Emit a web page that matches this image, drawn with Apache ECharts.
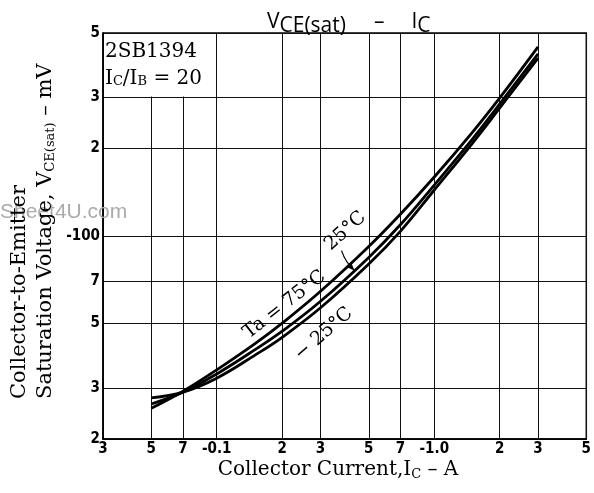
<!DOCTYPE html>
<html>
<head>
<meta charset="utf-8">
<script src="https://cdn.jsdelivr.net/npm/echarts@6/dist/echarts.min.js"></script>
<style>
  html, body { margin: 0; padding: 0; background: #fff; }
  #chart { width: 594px; height: 493px; }
</style>
</head>
<body>
<div id="chart"></div>
<script>
// tick positions and their printed labels (PNP device, so negative signs)
const xTicks = [0.03, 0.05, 0.07, 0.1, 0.2, 0.3, 0.5, 0.7, 1, 2, 3, 5]
const xTickLabels = ['3', '5', '7', '-0.1', '2', '3', '5', '7', '-1.0', '2', '3', '5']
const yTicks = [20, 30, 50, 70, 100, 200, 300, 500]
const yTickLabels = ['2', '3', '5', '7', '-100', '2', '3', '5']

// collector current, A
const current = [0.05, 0.07, 0.1, 0.15, 0.2, 0.3, 0.5, 0.7, 1, 1.5, 2, 3]
// VCE(sat), mV
const vce75 = [25.5, 29.2, 34.6, 42.6, 50.1, 64.5, 92, 119, 159.6, 228, 299, 448]
const vce25 = [26.4, 29.0, 33.5, 40.6, 47.0, 59.6, 84.4, 109.5, 149.8, 216, 285, 424]
const vceM25 = [27.7, 29.0, 32.4, 38.9, 44.8, 56.6, 80.1, 104, 144, 209, 276, 410]

const serif = "'DejaVu Serif', 'Liberation Serif', serif"
const sans = "'Open Sans', 'Noto Sans', sans-serif"
const tickFont = "'DejaVu Sans Condensed', 'Liberation Sans', sans-serif"

const pickLabel = (ticks, labels, v) => {
  for (let i = 0; i < ticks.length; i++) {
    if (Math.abs(Math.log10(v) - Math.log10(ticks[i])) < 1e-6) return labels[i]
  }
  return ''
}

const chart = echarts.init(document.getElementById('chart'))

const curve = (name, vals) => ({
  name,
  type: 'line',
  data: current.map((x, i) => [x, vals[i]]),
  smooth: 0.4,
  symbol: 'none',
  lineStyle: { color: '#000', width: 2.8 },
  z: 5
})

const option = {
  animation: false,
  backgroundColor: '#fff',
  title: {
    text: '{v|V}{s|CE(sat)}{d|–}{v|I}{s|C}',
    left: 262,
    top: 5,
    textStyle: {
      rich: {
        v: { fontFamily: sans, fontSize: 21, fontWeight: 'normal', color: '#000', lineHeight: 24 },
        s: { fontFamily: sans, fontSize: 21, fontWeight: 'normal', color: '#000', lineHeight: 24, padding: [9, 0, 0, 0] },
        d: { fontFamily: sans, fontSize: 21, fontWeight: 'normal', color: '#000', lineHeight: 24, padding: [0, 27, 0, 28] }
      }
    }
  },
  grid: {
    left: 103,
    right: 7,
    top: 33,
    bottom: 54,
    show: true,
    borderColor: '#000',
    borderWidth: 1.5
  },
  xAxis: {
    type: 'log',
    min: 0.03,
    max: 5,
    axisLine: { show: true, lineStyle: { color: '#000', width: 1.5 } },
    axisTick: { show: false, customValues: xTicks },
    splitLine: { show: true, lineStyle: { color: '#111', width: 1 } },
    axisLabel: {
      customValues: xTicks,
      color: '#000',
      fontFamily: tickFont,
      fontWeight: 'bold',
      fontSize: 15,
      margin: 3,
      formatter: v => pickLabel(xTicks, xTickLabels, v)
    }
  },
  yAxis: {
    type: 'log',
    min: 20,
    max: 500,
    axisLine: { show: true, lineStyle: { color: '#000', width: 1.5 } },
    axisTick: { show: false, customValues: yTicks },
    splitLine: { show: true, lineStyle: { color: '#111', width: 1 } },
    axisLabel: {
      customValues: yTicks,
      color: '#000',
      fontFamily: tickFont,
      fontWeight: 'bold',
      fontSize: 15,
      margin: 3,
      formatter: v => pickLabel(yTicks, yTickLabels, v)
    }
  },
  series: [
    curve('Ta=75°C', vce75),
    curve('25°C', vce25),
    curve('-25°C', vceM25)
  ]
}

chart.setOption(option)

// annotations anchored in data space
const px = p => chart.convertToPixel({ gridIndex: 0 }, p)
const boxA = px([0.03, 500])
const boxB = px([0.1, 300])
const t75 = px([0.205, 58])
const t25 = px([0.39, 104])
const tm25 = px([0.31, 46])
const arrowTo = px([0.43, 76])
const deg = Math.PI / 180

chart.setOption({
  graphic: [
    {
      type: 'rect',
      shape: { x: boxA[0] + 1, y: boxA[1] + 1, width: boxB[0] - boxA[0] - 2, height: boxB[1] - boxA[1] - 2 },
      style: { fill: '#fff' },
      z: 10
    },
    {
      type: 'text',
      x: boxA[0] + 2,
      y: boxA[1] + 5,
      z: 11,
      style: {
        text: '2SB1394\n{t|I}{s|C}{t|/I}{s|B}{t| = 20}',
        font: `20px ${serif}`,
        fill: '#000',
        lineHeight: 27,
        rich: {
          t: { font: `20px ${serif}`, fill: '#000' },
          s: { font: `13px ${serif}`, fill: '#000', padding: [7, 0, 0, 0] }
        }
      }
    },
    {
      type: 'text',
      x: t75[0], y: t75[1],
      rotation: 38 * deg,
      z: 11,
      style: { text: 'Ta = 75°C', font: `19px ${serif}`, fill: '#000', align: 'center', verticalAlign: 'middle' }
    },
    {
      type: 'text',
      x: t25[0], y: t25[1],
      rotation: 42 * deg,
      z: 11,
      style: { text: '25°C', font: `19px ${serif}`, fill: '#000', align: 'center', verticalAlign: 'middle' }
    },
    {
      type: 'text',
      x: tm25[0], y: tm25[1],
      rotation: 41 * deg,
      z: 11,
      style: { text: '− 25°C', font: `19px ${serif}`, fill: '#000', align: 'center', verticalAlign: 'middle' }
    },
    {
      type: 'bezierCurve',
      z: 11,
      shape: {
        x1: arrowTo[0] - 13, y1: arrowTo[1] - 20,
        x2: arrowTo[0], y2: arrowTo[1],
        cpx1: arrowTo[0] - 9, cpy1: arrowTo[1] - 8
      },
      style: { stroke: '#000', lineWidth: 1.2, fill: null }
    },
    {
      type: 'polygon',
      z: 11,
      shape: { points: [[arrowTo[0], arrowTo[1]], [arrowTo[0] - 7, arrowTo[1] - 3], [arrowTo[0] - 3, arrowTo[1] - 7]] },
      style: { fill: '#000' }
    },
    {
      type: 'text',
      x: 0, y: 212,
      z: 1,
      style: { text: 'Sheet4U.com', font: "21px 'Liberation Sans', sans-serif", fill: '#aaaaaa', verticalAlign: 'middle' }
    },
    {
      type: 'text',
      x: 20, y: 399,
      rotation: 90 * deg,
      z: 2,
      style: { text: 'Collector-to-Emitter', font: `21px ${serif}`, fill: '#000', align: 'left', verticalAlign: 'middle' }
    },
    {
      type: 'text',
      x: 46, y: 399,
      rotation: 90 * deg,
      z: 2,
      style: {
        text: '{t|Saturation Voltage, V}{s|CE(sat)}{t| – mV}',
        font: `21px ${serif}`,
        fill: '#000',
        align: 'left',
        verticalAlign: 'middle',
        rich: {
          t: { font: `21px ${serif}`, fill: '#000' },
          s: { font: `13px ${serif}`, fill: '#000', padding: [9, 0, 0, 0] }
        }
      }
    },
    {
      type: 'text',
      x: 338, y: 470,
      style: {
        text: '{t|Collector Current,I}{s|C}{t| – A}',
        font: `20px ${serif}`,
        fill: '#000',
        align: 'center',
        verticalAlign: 'middle',
        rich: {
          t: { font: `20px ${serif}`, fill: '#000' },
          s: { font: `13px ${serif}`, fill: '#000', padding: [9, 0, 0, 0] }
        }
      }
    }
  ]
})
</script>
</body>
</html>
